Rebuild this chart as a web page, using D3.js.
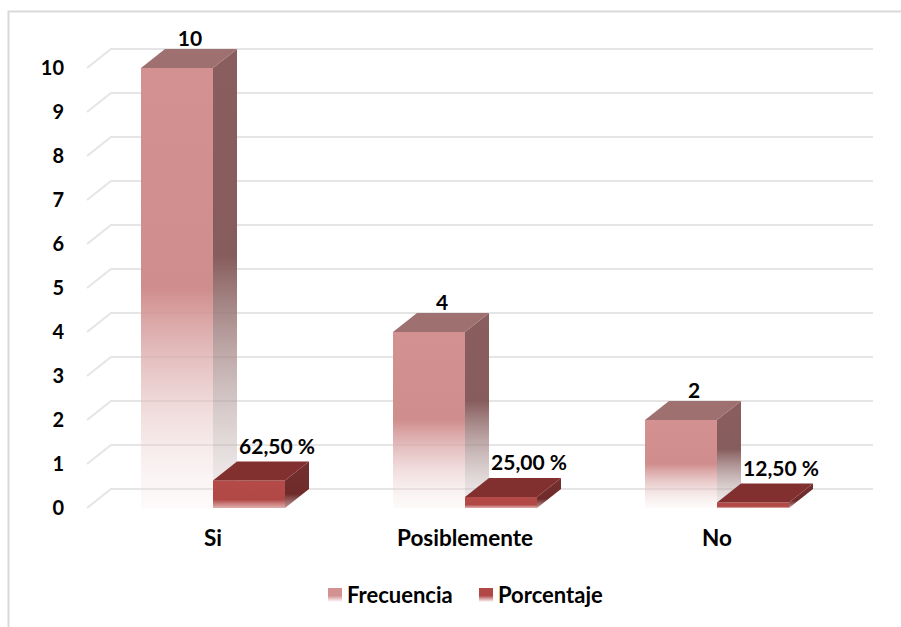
<!DOCTYPE html>
<html>
<head>
<meta charset="utf-8">
<script src="https://cdn.jsdelivr.net/npm/d3@7"></script>
<style>
  html, body { margin: 0; padding: 0; background: #fff; }
  svg { display: block; font-family: Lato, "Open Sans", sans-serif; font-weight: 700; }
</style>
</head>
<body>
<svg id="chart" width="901" height="627"></svg>
<script>
// Respuestas por categoría
const categories = ["Si", "Posiblemente", "No"];
const seriesNames = ["Frecuencia", "Porcentaje"];
const frecuencia = [10, 4, 2];
const porcentaje = [62.5, 25, 12.5];   // % — dibujado como fracción en el mismo eje
const yTicks = [0, 1, 2, 3, 4, 5, 6, 7, 8, 9, 10];

const svg = d3.select("#chart");

// Proyección oblicua de la profundidad 3D
const depthX = 24, depthY = -19;
const plotLeft = 87, plotRight = 843, floorY = 508, topY = 68;

const x0 = d3.scaleBand().domain(categories).range([plotLeft, plotRight]);
const x1 = d3.scaleBand().domain(seriesNames).range([0, x0.bandwidth()])
  .paddingInner(0).paddingOuter(0.75);
const y = d3.scaleLinear().domain([0, 10]).range([floorY, topY]);

const fmtPct = v => v.toFixed(2).replace(".", ",") + " %";

// Gradientes
const defs = svg.append("defs");
function vGrad(id, stops) {
  const g = defs.append("linearGradient").attr("id", id)
    .attr("x1", 0).attr("y1", 0).attr("x2", 0).attr("y2", 1);
  stops.forEach(s => g.append("stop").attr("offset", s[0])
    .attr("stop-color", s[1]).attr("stop-opacity", s[2]));
}
vGrad("frecFront", [[0, "#d39191", 1], [0.5, "#d08d8d", 1], [1, "#f5e8e8", 0.2]]);
vGrad("frecSide", [[0, "#8a5e5e", 1], [0.45, "#875c5c", 1], [1, "#d9d0d0", 0.3]]);
vGrad("pctFront", [[0, "#b44b49", 1], [0.7, "#b04846", 1], [1, "#d89a98", 0.8]]);
vGrad("pctSide", [[0, "#73302e", 1], [0.7, "#6e2b29", 1], [1, "#a97674", 0.8]]);
vGrad("frecSwatch", [[0, "#d39191", 1], [0.55, "#d39191", 1], [1, "#ffffff", 1]]);
vGrad("pctSwatch", [[0, "#b04846", 1], [0.55, "#b04846", 1], [1, "#ffffff", 1]]);

const styles = {
  Frecuencia: { front: "url(#frecFront)", side: "url(#frecSide)", top: "#9e7070", swatch: "url(#frecSwatch)" },
  Porcentaje: { front: "url(#pctFront)", side: "url(#pctSide)", top: "#82302f", swatch: "url(#pctSwatch)" }
};

// Borde del área del gráfico
svg.append("rect").attr("x", 8.5).attr("y", 11.5)
  .attr("width", 1000).attr("height", 1000)
  .attr("fill", "none").attr("stroke", "#d9d9d9").attr("stroke-width", 2);

// Líneas de cuadrícula: pared del fondo + pared lateral
const grid = svg.append("g").attr("stroke", "#e5e5e5").attr("stroke-width", 2).attr("fill", "none");
yTicks.forEach(v => {
  const yf = y(v), yb = y(v) + depthY;
  grid.append("path")
    .attr("d", `M${plotLeft},${yf}L${plotLeft + depthX},${yb}L${873},${yb}`);
});

// Eje Y
const yAxis = svg.append("g")
  .attr("transform", `translate(${plotLeft},0)`)
  .call(d3.axisLeft(y).tickValues(yTicks).tickSize(0).tickPadding(23).tickFormat(d3.format("d")));
yAxis.select(".domain").remove();
yAxis.selectAll("text").attr("font-size", 20).attr("font-family", "Lato, sans-serif")
  .attr("font-weight", 700).attr("fill", "#000");

// Eje X
const xAxis = svg.append("g")
  .attr("transform", `translate(0,${floorY})`)
  .call(d3.axisBottom(x0).tickSize(0).tickPadding(22));
xAxis.select(".domain").remove();
xAxis.selectAll("text").attr("font-size", 22.5).attr("font-family", "Lato, sans-serif")
  .attr("font-weight", 700).attr("fill", "#000");

// Datos por barra
const bars = [];
categories.forEach((c, i) => {
  bars.push({ cat: c, series: "Frecuencia", value: frecuencia[i], label: String(frecuencia[i]) });
  bars.push({ cat: c, series: "Porcentaje", value: porcentaje[i] / 100, label: fmtPct(porcentaje[i]) });
});

// Columnas 3D (de izquierda a derecha para que se tapen correctamente)
const barG = svg.append("g");
bars.forEach(d => {
  const xl = x0(d.cat) + x1(d.series);
  const w = x1.bandwidth();
  const yt = y(d.value), yb = y(0);
  const st = styles[d.series];
  const g = barG.append("g");
  g.append("rect").attr("x", xl).attr("y", yt).attr("width", w).attr("height", yb - yt)
    .attr("fill", st.front);
  g.append("path")
    .attr("d", `M${xl + w},${yt}L${xl + w + depthX},${yt + depthY}L${xl + w + depthX},${yb + depthY}L${xl + w},${yb}Z`)
    .attr("fill", st.side);
  g.append("path")
    .attr("d", `M${xl},${yt}L${xl + w},${yt}L${xl + w + depthX},${yt + depthY}L${xl + depthX},${yt + depthY}Z`)
    .attr("fill", st.top);
});

// Etiquetas de datos
svg.append("g").selectAll("text").data(bars).join("text")
  .attr("x", d => x0(d.cat) + x1(d.series) + x1.bandwidth() / 2 + (d.series === "Frecuencia" ? 13 : 28))
  .attr("y", d => y(d.value) - (d.series === "Frecuencia" ? 22 : 27))
  .attr("text-anchor", "middle")
  .attr("font-size", 21).attr("fill", "#000")
  .text(d => d.label);

// Leyenda
const legendX = [328, 479];
const legend = svg.append("g").selectAll("g").data(seriesNames).join("g")
  .attr("transform", (d, i) => `translate(${legendX[i]},588)`);
legend.append("rect").attr("width", 14).attr("height", 14).attr("fill", d => styles[d].swatch);
legend.append("text").attr("x", 19).attr("y", 15).attr("font-size", 22).attr("fill", "#000")
  .text(d => d);
</script>
</body>
</html>
